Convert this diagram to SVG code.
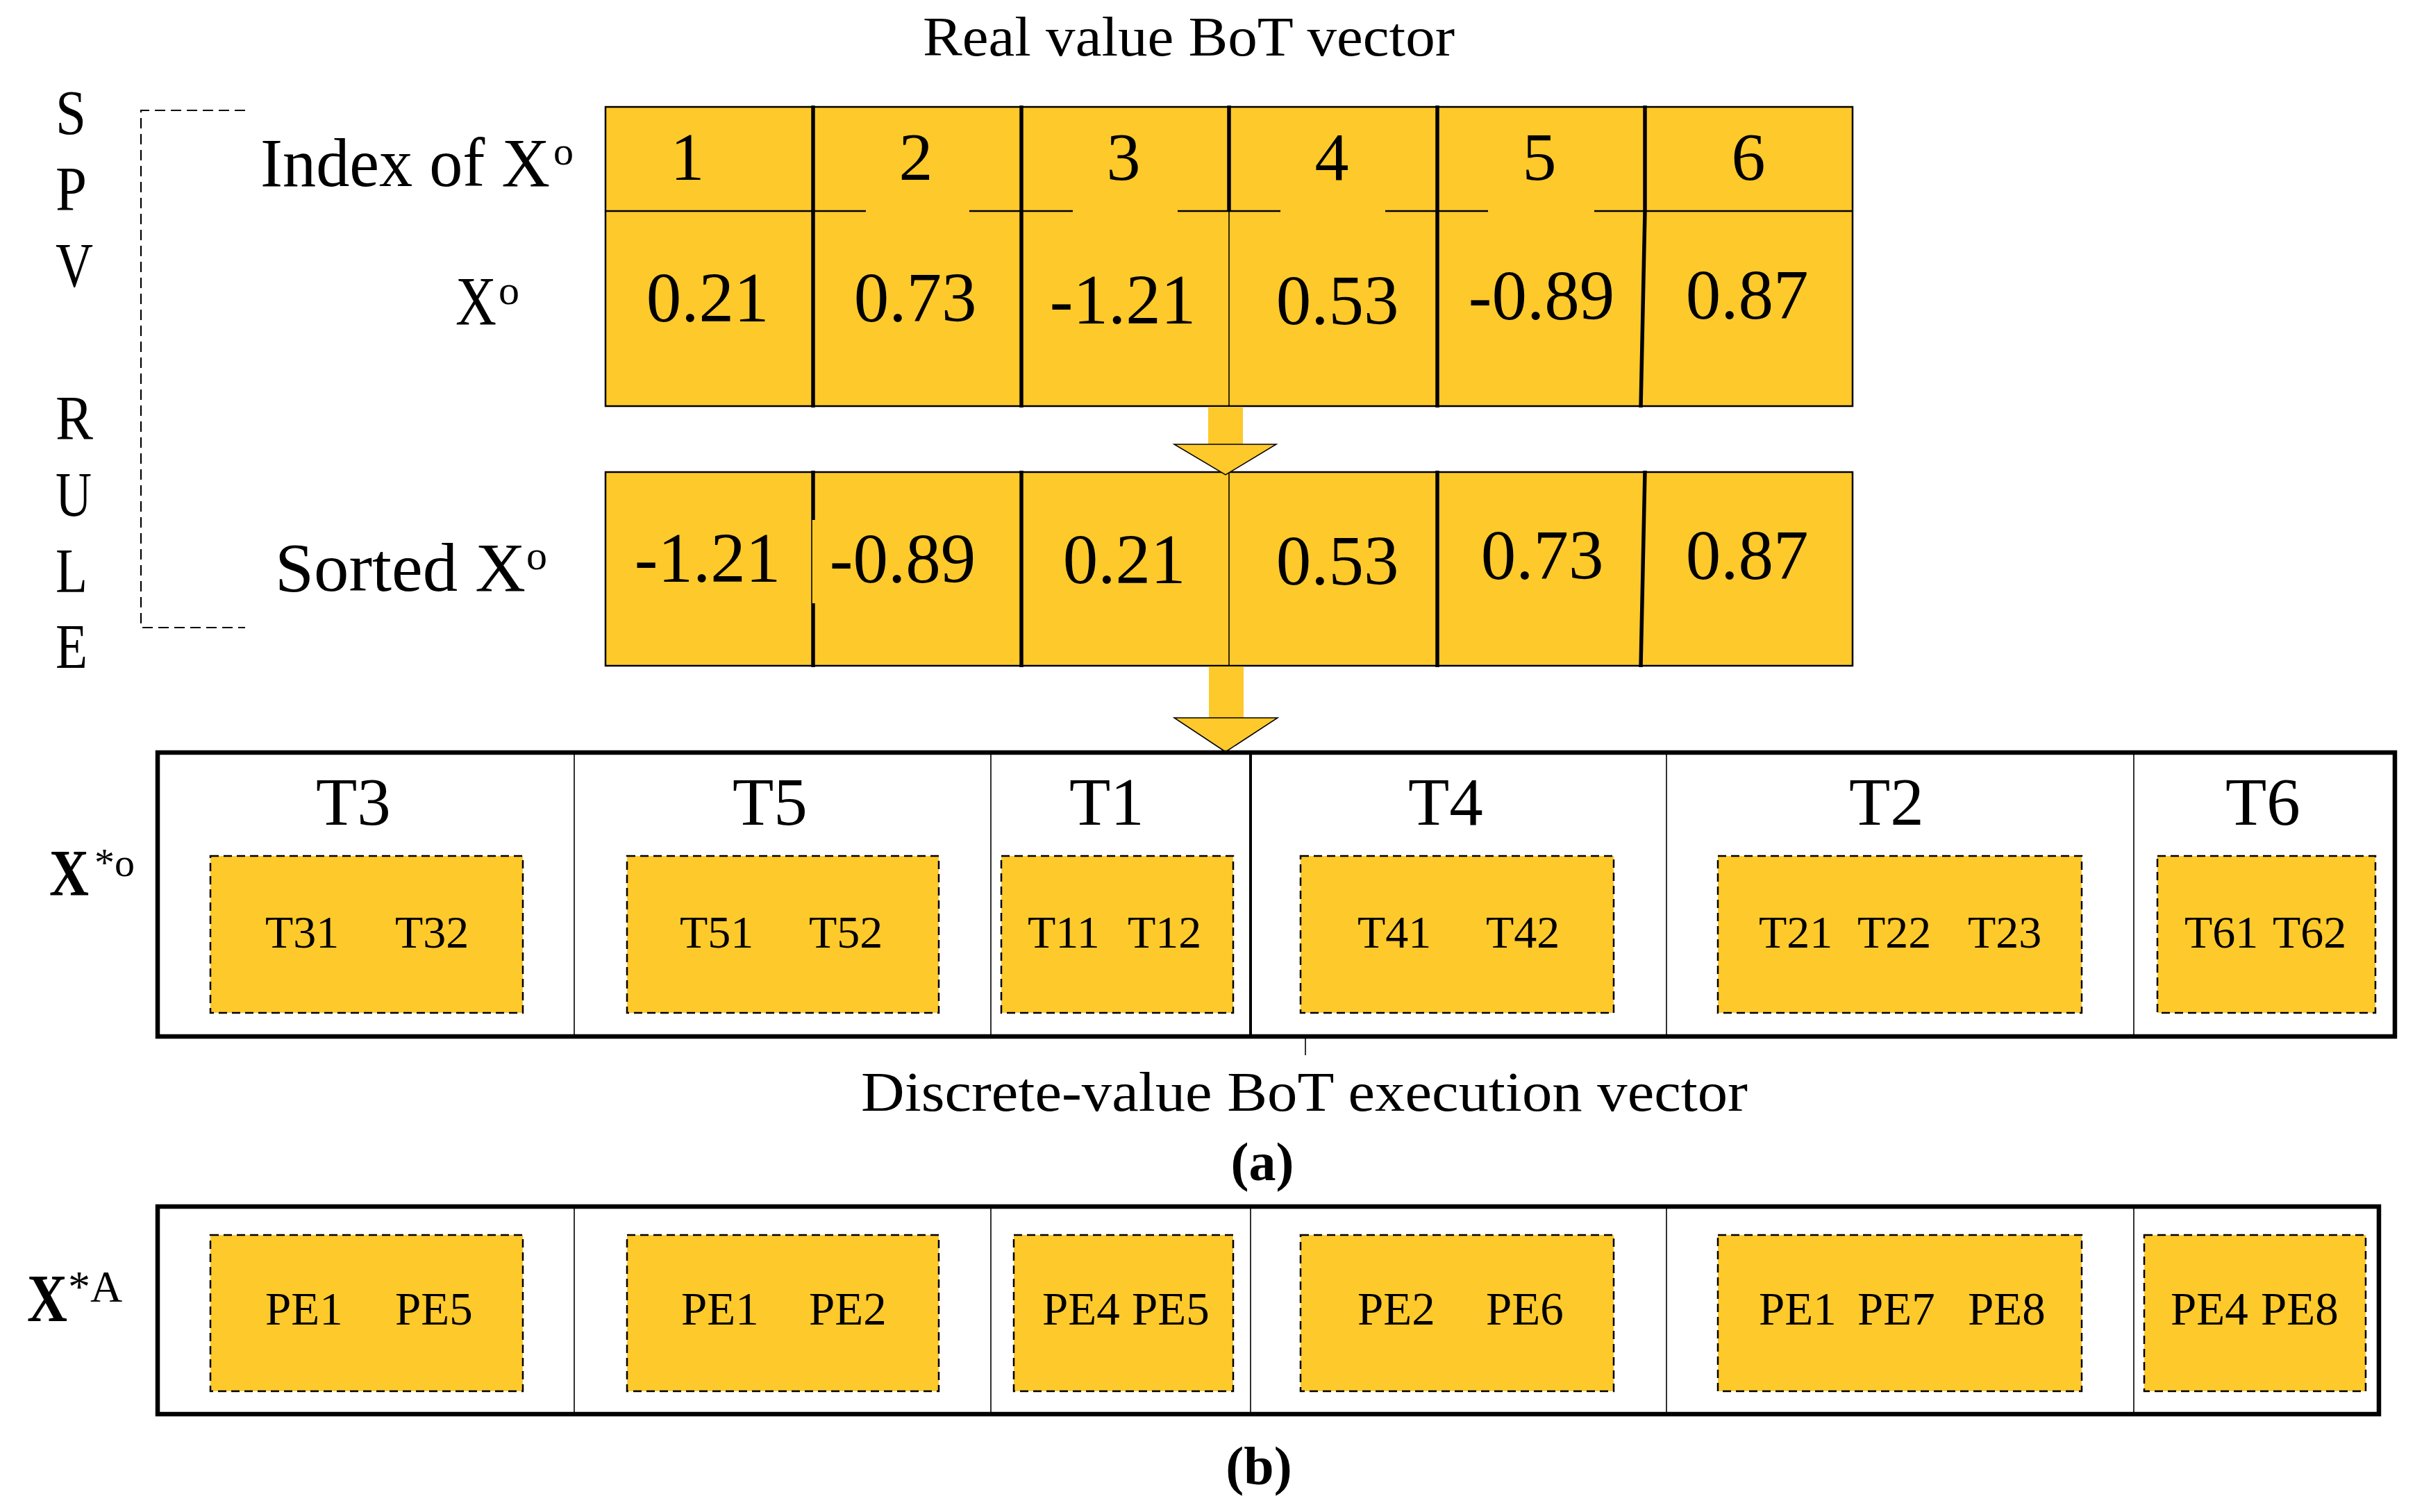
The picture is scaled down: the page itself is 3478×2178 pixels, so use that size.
<svg xmlns="http://www.w3.org/2000/svg" width="3478" height="2178" viewBox="0 0 3478 2178">
<style>
.t{font-family:"Liberation Serif","Times New Roman",serif;fill:#000}
.b{font-weight:bold}
.n{font-weight:normal}
.cell{fill:#FEC92B;stroke:#000;stroke-width:2.5}
.thick{stroke:#000;stroke-width:5.5;fill:none}
.thin{stroke:#000;stroke-width:1.6;fill:none}
.mid{stroke:#000;stroke-width:2.5;fill:none}
.dash{fill:#FEC92B;stroke:#000;stroke-width:2.5;stroke-dasharray:12 7}
.frame{fill:#fff;stroke:#000;stroke-width:6.5}
.brk{fill:none;stroke:#000;stroke-width:2.2;stroke-dasharray:15 8}
.arr{fill:#FEC92B}
.head{fill:#FEC92B;stroke:#000;stroke-width:1.5}
</style>
<rect width="3478" height="2178" fill="#fff"/>

<g id="title">
<text class="t" x="1329" y="80" font-size="80" textLength="766" lengthAdjust="spacingAndGlyphs">Real value BoT vector</text>
</g>

<g id="spv-rule" class="t" font-size="90">
<text x="80" y="193" textLength="44" lengthAdjust="spacingAndGlyphs">S</text>
<text x="80" y="303" textLength="45" lengthAdjust="spacingAndGlyphs">P</text>
<text x="80" y="413" textLength="54" lengthAdjust="spacingAndGlyphs">V</text>
<text x="80" y="633" textLength="54" lengthAdjust="spacingAndGlyphs">R</text>
<text x="80" y="743" textLength="52" lengthAdjust="spacingAndGlyphs">U</text>
<text x="80" y="853" textLength="46" lengthAdjust="spacingAndGlyphs">L</text>
<text x="80" y="962" textLength="46" lengthAdjust="spacingAndGlyphs">E</text>
</g>

<g id="bracket">
<path class="brk" d="M353,159 H203 V904 H353"/>
</g>

<g id="row-labels" class="t">
<text x="375" y="268" font-size="100"><tspan textLength="417" lengthAdjust="spacingAndGlyphs">Index of X</tspan><tspan x="797" y="237" font-size="58">o</tspan></text>
<text x="656" y="467" font-size="100"><tspan textLength="59" lengthAdjust="spacingAndGlyphs">X</tspan><tspan x="718" y="438" font-size="60">o</tspan></text>
<text x="396" y="851" font-size="100"><tspan textLength="361" lengthAdjust="spacingAndGlyphs">Sorted X</tspan><tspan x="758" y="820" font-size="60">o</tspan></text>
</g>

<g id="table-real">
<rect class="cell" x="872" y="154" width="1796" height="431"/>
<path class="mid" d="M872,304 H1247 M1396,304 H1545 M1696,304 H1844 M1995,304 H2143 M2296,304 H2668"/>
<path class="thick" d="M1171,152 V587 M1471,152 V587 M1770,152 V304 M2070,152 V587 M2369,152 V304 L2363,587"/>
<path class="thin" d="M1770,304 V585"/>
<g class="t" font-size="98" text-anchor="middle">
<text x="990" y="259">1</text>
<text x="1319" y="259">2</text>
<text x="1618" y="259">3</text>
<text x="1918" y="259">4</text>
<text x="2217" y="259">5</text>
<text x="2518" y="259">6</text>
</g>
<g class="t" font-size="101" text-anchor="middle">
<text x="1019" y="463">0.21</text>
<text x="1318" y="463">0.73</text>
<text x="1617" y="466">-1.21</text>
<text x="1926" y="467">0.53</text>
<text x="2220" y="460">-0.89</text>
<text x="2516" y="459">0.87</text>
</g>
</g>

<g id="table-sorted">
<rect class="cell" x="872" y="680" width="1796" height="279"/>
<path class="thick" d="M1171,678 V749 M1171,869 V961 M1471,678 V961 M2070,678 V961 M2369,678 L2363,961"/>
<path class="thin" d="M1169,749 V869 M1770,680 V959"/>
<g class="t" font-size="101" text-anchor="middle">
<text x="1019" y="838">-1.21</text>
<text x="1300" y="839">-0.89</text>
<text x="1619" y="840">0.21</text>
<text x="1926" y="842">0.53</text>
<text x="2221" y="834">0.73</text>
<text x="2516" y="834">0.87</text>
</g>
</g>

<g id="connectors">
<rect class="arr" x="1740" y="586" width="50" height="55"/>
<polygon class="head" points="1691,640 1838,640 1765,684"/>
<rect class="arr" x="1741" y="960" width="50" height="75"/>
<polygon class="head" points="1691,1034 1840,1034 1765,1083"/>
<line class="thin" x1="1880" y1="1493" x2="1880" y2="1520"/>
</g>

<g id="vector-a">
<rect class="frame" x="227" y="1084" width="3222" height="409"/>
<path class="thin" d="M827,1084 V1493 M1427,1084 V1493 M2400,1084 V1493 M3073,1084 V1493"/>
<path stroke="#000" stroke-width="4" d="M1801,1084 V1493"/>
<g class="t" font-size="97" text-anchor="middle">
<text x="509" y="1188">T3</text>
<text x="1109" y="1188">T5</text>
<text x="1594" y="1188">T1</text>
<text x="2082" y="1188">T4</text>
<text x="2717" y="1188">T2</text>
<text x="3259" y="1188">T6</text>
</g>
<rect class="dash" x="303" y="1233" width="450" height="226"/>
<rect class="dash" x="903" y="1233" width="449" height="226"/>
<rect class="dash" x="1442" y="1233" width="334" height="226"/>
<rect class="dash" x="1873" y="1233" width="451" height="226"/>
<rect class="dash" x="2474" y="1233" width="524" height="226"/>
<rect class="dash" x="3107" y="1233" width="314" height="226"/>
<g class="t" font-size="66">
<text x="382" y="1365">T31</text>
<text x="569" y="1365">T32</text>
<text x="979" y="1365">T51</text>
<text x="1165" y="1365">T52</text>
<text x="1480" y="1365">T11</text>
<text x="1624" y="1365">T12</text>
<text x="1955" y="1365">T41</text>
<text x="2140" y="1365">T42</text>
<text x="2533" y="1365">T21</text>
<text x="2675" y="1365">T22</text>
<text x="2834" y="1365">T23</text>
<text x="3146" y="1365">T61</text>
<text x="3273" y="1365">T62</text>
</g>
</g>

<g id="label-xo">
<text class="t b" x="71" y="1290" font-size="96"><tspan textLength="57" lengthAdjust="spacingAndGlyphs">X</tspan><tspan class="n" x="136" y="1262" font-size="58">*o</tspan></text>
</g>

<g id="caption-a">
<text class="t" x="1240" y="1600" font-size="80" textLength="1277" lengthAdjust="spacingAndGlyphs">Discrete-value BoT execution vector</text>
<text class="t b" x="1818" y="1700" font-size="78" text-anchor="middle">(a)</text>
</g>

<g id="vector-b">
<rect class="frame" x="227" y="1738" width="3199" height="299"/>
<path class="thin" d="M827,1738 V2037 M1427,1738 V2037 M1801,1738 V2037 M2400,1738 V2037 M3073,1738 V2037"/>
<rect class="dash" x="303" y="1779" width="450" height="225"/>
<rect class="dash" x="903" y="1779" width="449" height="225"/>
<rect class="dash" x="1460" y="1779" width="316" height="225"/>
<rect class="dash" x="1873" y="1779" width="451" height="225"/>
<rect class="dash" x="2474" y="1779" width="524" height="225"/>
<rect class="dash" x="3088" y="1779" width="319" height="225"/>
<g class="t" font-size="67">
<text x="382" y="1908">PE1</text>
<text x="569" y="1908">PE5</text>
<text x="981" y="1908">PE1</text>
<text x="1165" y="1908">PE2</text>
<text x="1501" y="1908">PE4</text>
<text x="1630" y="1908">PE5</text>
<text x="1955" y="1908">PE2</text>
<text x="2140" y="1908">PE6</text>
<text x="2533" y="1908">PE1</text>
<text x="2675" y="1908">PE7</text>
<text x="2834" y="1908">PE8</text>
<text x="3126" y="1908">PE4</text>
<text x="3256" y="1908">PE8</text>
</g>
</g>

<g id="label-xa">
<text class="t b" x="39" y="1903" font-size="97"><tspan textLength="58" lengthAdjust="spacingAndGlyphs">X</tspan><tspan class="n" x="98" y="1875" font-size="64">*A</tspan></text>
</g>

<g id="caption-b">
<text class="t b" x="1813" y="2138" font-size="78" text-anchor="middle">(b)</text>
</g>
</svg>
